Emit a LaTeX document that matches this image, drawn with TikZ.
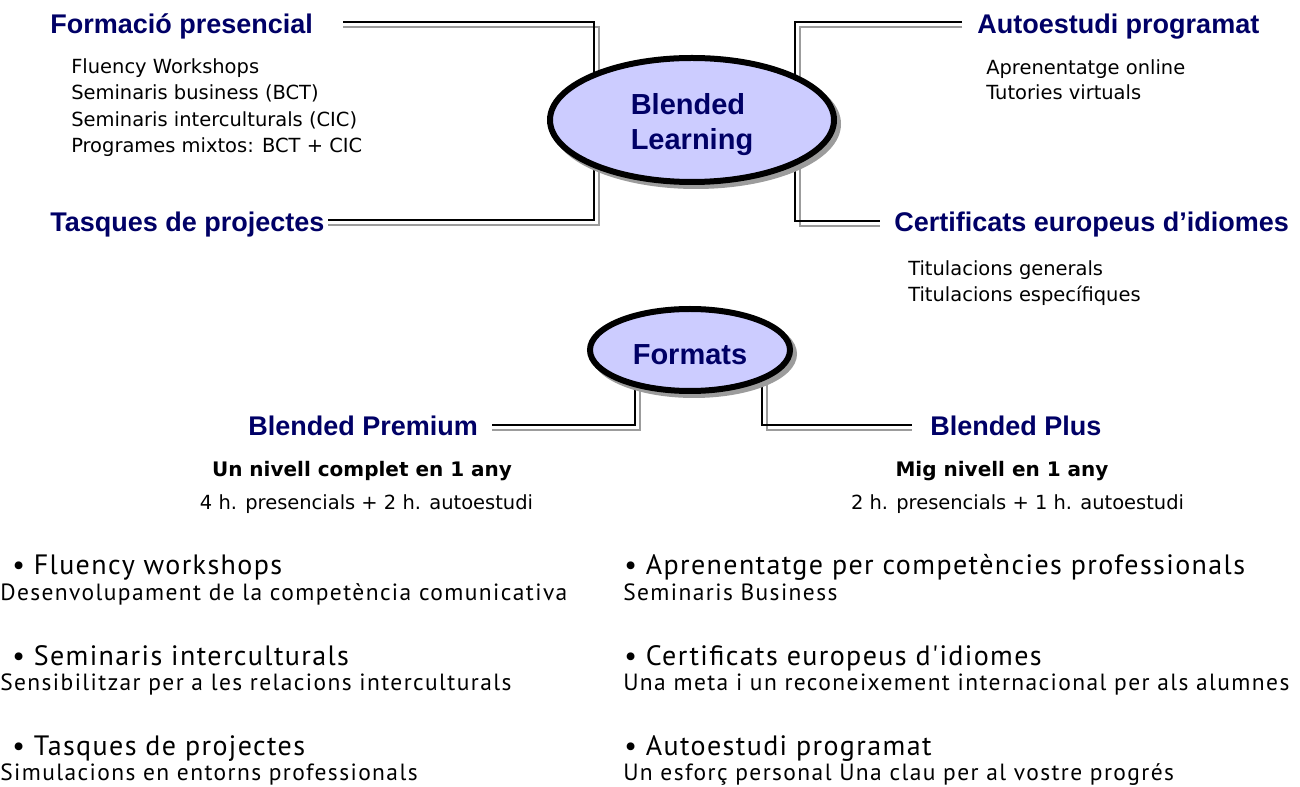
\documentclass[tikz,border=0pt]{standalone}
\usepackage{fontspec}
\setmainfont{Liberation Sans}
\newfontfamily\hfont{Liberation Sans}
\newfontfamily\vfont{DejaVu Sans}
\newfontfamily\gfont[Ligatures=TeXOff,LetterSpace=5]{PT Sans}
\newfontfamily\gsfont[Ligatures=TeXOff,LetterSpace=6]{PT Sans}
\usetikzlibrary{shapes.geometric}
\definecolor{navy}{HTML}{000066}
\definecolor{lav}{HTML}{CCCCFF}
\definecolor{shd}{HTML}{9C9C9C}
\tikzset{
 hd/.style={font=\hfont\bfseries\fontsize{20.25pt}{24pt}\selectfont, text=navy, inner sep=0pt, anchor=base west},
 it/.style={font=\vfont\fontsize{14.6pt}{17pt}\selectfont, inner sep=0pt, anchor=base west},
 itb/.style={font=\vfont\bfseries\fontsize{15pt}{18pt}\selectfont, inner sep=0pt, anchor=base},
 itc/.style={font=\vfont\fontsize{14.6pt}{17pt}\selectfont, inner sep=0pt, anchor=base},
 bm/.style={font=\gfont\fontsize{21pt}{24pt}\selectfont, inner sep=0pt, anchor=base west},
 bs/.style={font=\gsfont\fontsize{17.6pt}{20pt}\selectfont, inner sep=0pt, anchor=base west},
 ln/.style={line width=1.5pt, draw=black},
 lns/.style={line width=1.5pt, draw=shd},
 ell/.style={ellipse, draw=black, fill=lav, line width=4.5pt, inner sep=0pt},
 ellsh/.style={ellipse, draw=shd, fill=shd, line width=4.5pt, inner sep=0pt},
 ct/.style={font=\hfont\bfseries\fontsize{21.75pt}{26.25pt}\selectfont, text=navy, align=left, inner sep=0pt},
}
\begin{document}
\begin{tikzpicture}[x=0.75pt,y=-0.75pt]
\useasboundingbox (0,0) rectangle (1300,787);

% ---- top-left group
\node[hd] (fp) at (50,34) {Formació presencial};
\node[it] (i1) at (71,74) {Fluency Workshops};
\node[it] (i2) at (71,100) {Seminaris business (BCT)};
\node[it] (i3) at (71,126.5) {Seminaris interculturals (CIC)};
\node[it] (i4) at (71,153) {Programes mixtos: BCT + CIC};
\node[hd] (tp) at (50,232) {Tasques de projectes};

% ---- top-right group
\node[hd] (ap) at (977,34) {Autoestudi programat};
\node[it] (a1) at (986,75) {Aprenentatge online};
\node[it] (a2) at (986,100) {Tutories virtuals};
\node[hd] (ce) at (894,232) {Certificats europeus d’idiomes};
\node[it] (c1) at (908,276) {Titulacions generals};
\node[it] (c2) at (908,302) {Titulacions específiques};

% ---- connector end points
\coordinate (fpE) at (343,22);
\coordinate (tpE) at (328,220);
\coordinate (apW) at (962,22);
\coordinate (ceW) at (880,221);

\draw[lns] (fpE |- 0,27) -- (599,27) -- (599,225) -- (tpE |- 0,225);
\draw[ln] (fpE) -- (594,22) -- (594,220) -- (tpE);
\draw[lns] (apW |- 0,27) -- (800,27) -- (800,226) -- (ceW |- 0,226);
\draw[ln] (apW) -- (795,22) -- (795,221) -- (ceW);

% ---- Blended Learning ellipse
\node[ellsh, minimum width=213pt, minimum height=93pt] (blsh) at (696,124) {};
\node[ell, minimum width=213pt, minimum height=93pt] (bl) at (692,120) {};
\node[ct] (blt) at (692,125) {Blended\\Learning};

% ---- Formats
\node[hd] (bp) at (248,436) {Blended Premium};
\node[hd] (bpl) at (930,436) {Blended Plus};
\coordinate (bpE) at (492,425);
\coordinate (bplW) at (912,425);

\draw[lns] (bpE |- 0,430) -- (640,430) -- (640,370);
\draw[ln] (bpE) -- (635,425) -- (635,370);
\draw[lns] (767,370) -- (767,430) -- (bplW |- 0,430);
\draw[ln] (762,370) -- (762,425) -- (bplW);

\node[ellsh, minimum width=150pt, minimum height=61.5pt] (fmsh) at (694,354) {};
\node[ell, minimum width=150pt, minimum height=61.5pt] (fm) at (690,350) {};
\node[ct] (fmt) at (690,355) {Formats};

\node[itb] (p1) at (362,477) {Un nivell complet en 1 any};
\node[itc] (p2) at (366.5,510) {4 h. presencials + 2 h. autoestudi};
\node[itb] (q1) at (1002,477) {Mig nivell en 1 any};
\node[itc] (q2) at (1017.5,510) {2 h. presencials + 1 h. autoestudi};

% ---- bottom lists
\node[bm] (b1) at (12,575) {• Fluency workshops};
\node[bs] (s1) at (0,600) {Desenvolupament de la competència comunicativa};
\node[bm] (b2) at (12,665) {• Seminaris interculturals};
\node[bs] (s2) at (0,690) {Sensibilitzar per a les relacions interculturals};
\node[bm] (b3) at (12,755) {• Tasques de projectes};
\node[bs] (s3) at (0,780) {Simulacions en entorns professionals};

\node[bm] (r1) at (624,575) {• Aprenentatge per competències professionals};
\node[bs] (t1) at (623,600) {Seminaris Business};
\node[bm] (r2) at (624,665) {• Certificats europeus d'idiomes};
\node[bs] (t2) at (623,690) {Una meta i un reconeixement internacional per als alumnes};
\node[bm] (r3) at (624,755) {• Autoestudi programat};
\node[bs] (t3) at (623,780) {Un esforç personal Una clau per al vostre progrés};
\end{tikzpicture}
\end{document}
